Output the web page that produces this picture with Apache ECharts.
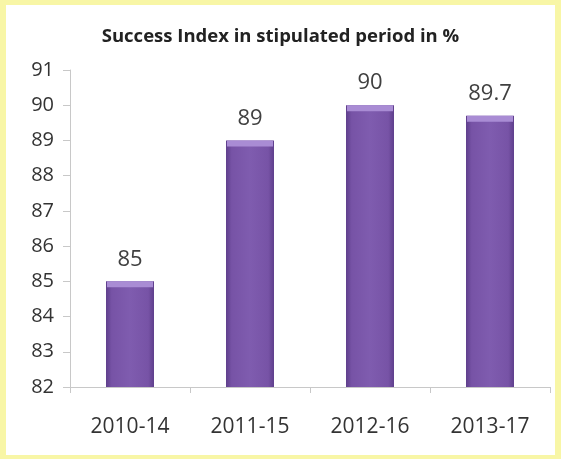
<!DOCTYPE html>
<html><head><meta charset="utf-8">
<script src="https://cdn.jsdelivr.net/npm/echarts@6/dist/echarts.min.js"></script>
<style>html,body{margin:0;padding:0;background:#f8f6a6;}#c{width:561px;height:459px;}</style>
</head><body><div id="c"></div>
<script>
const categories = ['2010-14', '2011-15', '2012-16', '2013-17'];
const values = [85, 89, 90, 89.7];
const labels = ['85', '89', '90', '89.7'];
const yTicks = [82, 83, 84, 85, 86, 87, 88, 89, 90, 91];

const chart = echarts.init(document.getElementById('c'));
chart.setOption({
  backgroundColor: '#f8f6a6',
  animation: false,
  graphic: [{type: 'rect', left: 6, top: 5, shape: {width: 549, height: 450}, style: {fill: '#ffffff'}, z: -10}],
  title: {
    text: 'Success Index in stipulated period in %', left: 'center', top: 22,
    textStyle: {fontFamily: 'Open Sans', fontWeight: 'bold', fontSize: 18.5, color: '#222'}
  },
  grid: {left: 70, right: 11, top: 70, bottom: 72},
  xAxis: {
    type: 'category', data: categories,
    axisLine: {lineStyle: {color: '#c8c8c8'}},
    axisTick: {show: true, alignWithLabel: false, length: 6, lineStyle: {color: '#c8c8c8'}},
    axisLabel: {fontFamily: 'Open Sans', fontSize: 21, color: '#333', margin: 30}
  },
  yAxis: {
    type: 'value', min: yTicks[0], max: yTicks[yTicks.length - 1], interval: 1,
    axisLine: {show: true, lineStyle: {color: '#c8c8c8'}},
    axisTick: {show: true, length: 7, lineStyle: {color: '#c8c8c8'}},
    splitLine: {show: false},
    axisLabel: {fontFamily: 'Open Sans', fontSize: 20, color: '#333', margin: 16}
  },
  series: [{
    type: 'bar', data: values, barWidth: 48,
    itemStyle: {
      color: new echarts.graphic.LinearGradient(0, 0, 1, 0, [
        {offset: 0, color: '#5f3f8c'}, {offset: 0.12, color: '#7753a6'},
        {offset: 0.5, color: '#7f5caf'}, {offset: 0.88, color: '#7753a6'}, {offset: 1, color: '#5f3f8c'}
      ])
    },
    label: {
      show: true, position: 'top', distance: 11,
      formatter: p => labels[p.dataIndex],
      fontFamily: 'Open Sans', fontSize: 22, color: '#404040'
    },
    z: 2
  }, {
    type: 'pictorialBar', data: values, symbol: 'rect', symbolSize: [46, 6],
    symbolPosition: 'end', symbolOffset: [0, 0], barGap: '-100%',
    itemStyle: {color: '#a98cd4'}, z: 3, silent: true
  }]
});
</script></body></html>
